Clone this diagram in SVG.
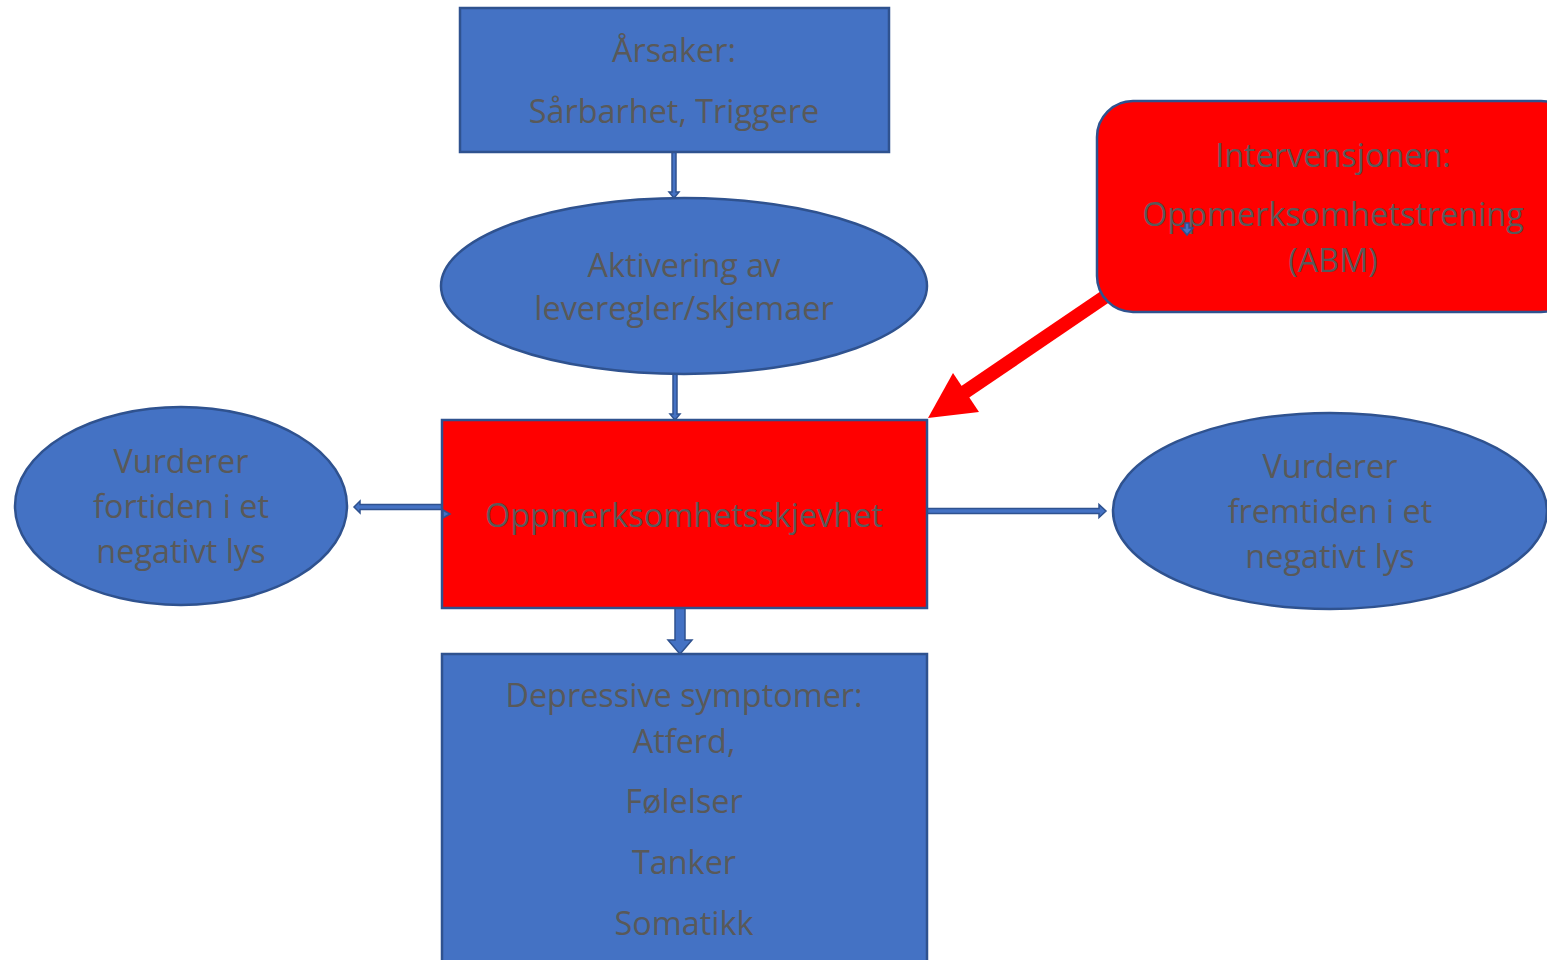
<svg xmlns="http://www.w3.org/2000/svg" width="1547" height="960" viewBox="0 0 1547 960">
<style>
.blue{fill:#4472C4;stroke:#2F528F;stroke-width:2.5}
.red{fill:#FF0000;stroke:#2F528F;stroke-width:2.5}
.con{fill:#4472C4;stroke:#2F528F;stroke-width:1.5;stroke-linejoin:miter}
.t{font-family:"Open Sans","Liberation Sans",sans-serif;font-size:32.4px;fill:#595959;text-anchor:middle}
</style>
<rect width="1547" height="960" fill="#FFFFFF"/>
<g id="connectors">
<polygon class="con" points="672,152 676,152 676,192 679,192 674,198 669,192 672,192"/>
<polygon class="con" points="673,374 677,374 677,414 680,414 675,420 670,414 673,414"/>
<polygon class="con" points="675,608 685,608 685,640 692,640 680,654 668,640 675,640"/>
<polygon class="con" points="442,504.5 360,504.5 360,501 354,507 360,513 360,509.5 442,509.5"/>
<polygon class="con" points="927,508.5 1099,508.5 1099,504.5 1106,511 1099,517.5 1099,513.5 927,513.5"/>
<line x1="1112" y1="292" x2="962" y2="394" stroke="#FF0000" stroke-width="14"/>
<polygon points="928,418 953,373 979,412" fill="#FF0000"/>
</g>
<g id="node-arsaker">
<rect class="blue" x="460" y="8" width="429" height="144"/>
<text class="t" x="674" y="62">Årsaker:</text>
<text class="t" x="674" y="123">Sårbarhet, Triggere</text>
</g>
<g id="node-aktivering">
<ellipse class="blue" cx="684" cy="286" rx="243" ry="88"/>
<text class="t" x="684" y="277">Aktivering av</text>
<text class="t" x="684" y="320">leveregler/skjemaer</text>
</g>
<g id="node-skjevhet">
<rect class="red" x="442" y="420" width="485" height="188"/>
<text class="t" x="684" y="527">Oppmerksomhetsskjevhet</text>
<polygon class="con" points="443,510 450,514 443,518"/>
</g>
<g id="node-fortiden">
<ellipse class="blue" cx="181" cy="506" rx="166" ry="99"/>
<text class="t" x="181" y="473">Vurderer</text>
<text class="t" x="181" y="518">fortiden i et</text>
<text class="t" x="181" y="563">negativt lys</text>
</g>
<g id="node-fremtiden">
<ellipse class="blue" cx="1330" cy="511" rx="217" ry="98"/>
<text class="t" x="1330" y="478">Vurderer</text>
<text class="t" x="1330" y="523">fremtiden i et</text>
<text class="t" x="1330" y="568">negativt lys</text>
</g>
<g id="node-symptomer">
<rect class="blue" x="442" y="654" width="485" height="320"/>
<text class="t" x="684" y="707">Depressive symptomer:</text>
<text class="t" x="684" y="753">Atferd,</text>
<text class="t" x="684" y="813">Følelser</text>
<text class="t" x="684" y="874">Tanker</text>
<text class="t" x="684" y="935">Somatikk</text>
</g>
<g id="node-intervensjon">
<rect class="red" x="1097" y="101" width="480" height="211" rx="36" ry="36"/>
<text class="t" x="1333" y="167">Intervensjonen:</text>
<text class="t" x="1333" y="226">Oppmerksomhetstrening</text>
<text class="t" x="1333" y="272">(ABM)</text>
<polygon class="con" points="1185,223 1189,223 1189,228 1193,228 1187,235 1181,228 1185,228"/>
</g>
</svg>
